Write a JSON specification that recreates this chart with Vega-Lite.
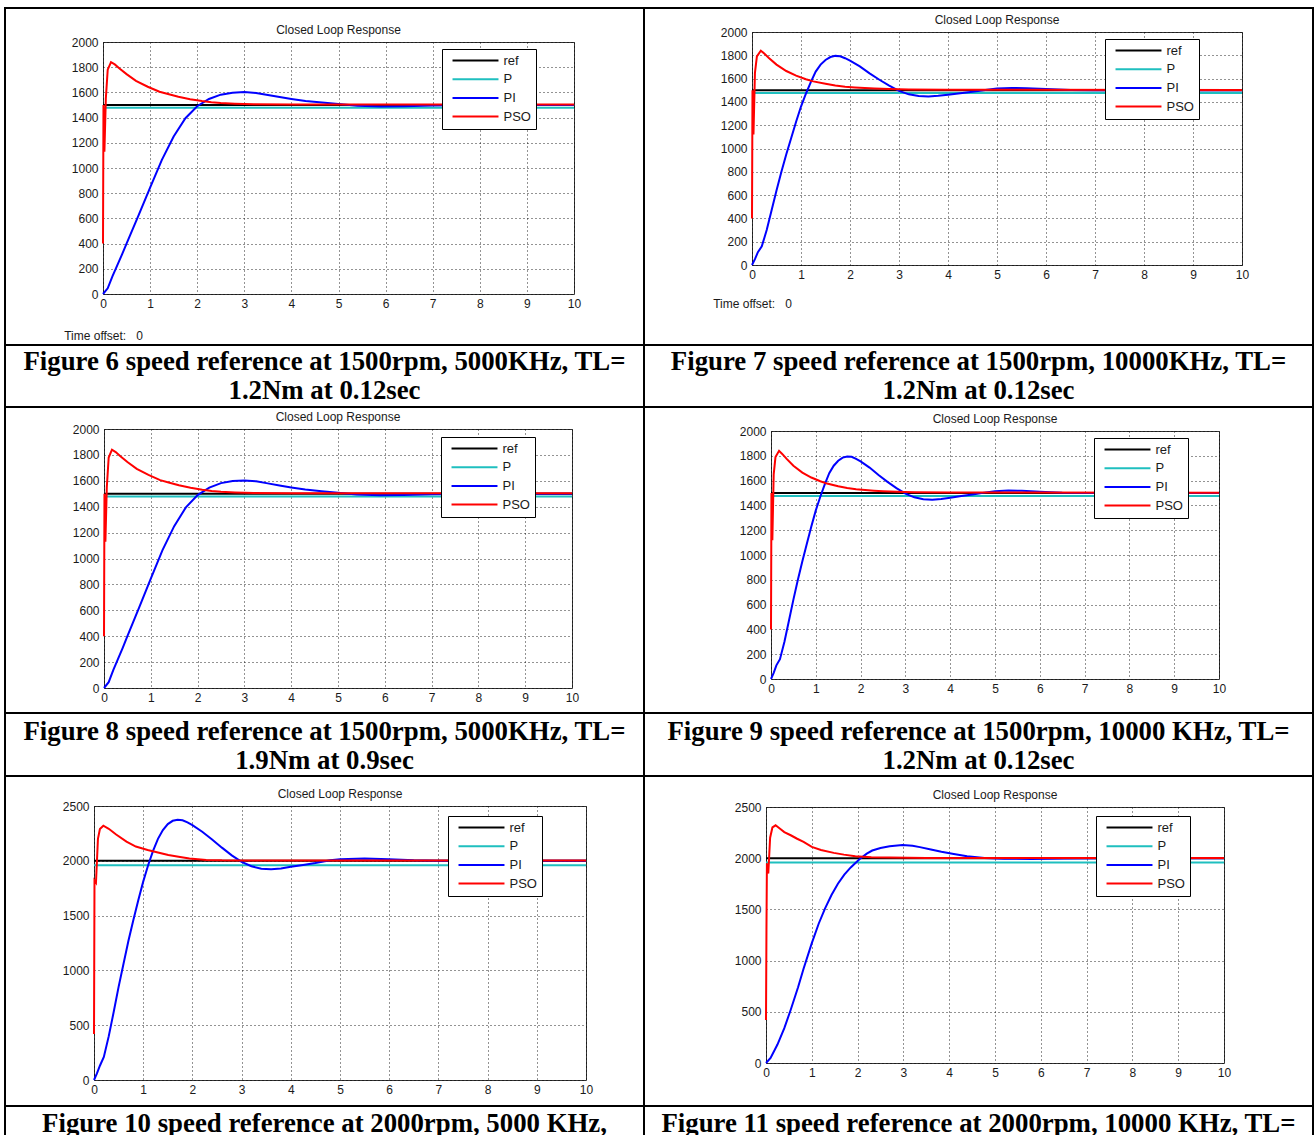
{
"$schema": "https://vega.github.io/schema/vega-lite/v6.json",
"padding": {"left": 4, "top": 7, "right": 0, "bottom": 0},
"background": "white",
"data": {"values": [{}]},
"datasets": {
"A": [
{"s":"ref","t":0,"v":1500},{"s":"ref","t":10,"v":1500},
{"s":"P","t":0,"v":1478},{"s":"P","t":10,"v":1478},
{"s":"PI","t":0,"v":0},{"s":"PI","t":0.1,"v":45},{"s":"PI","t":0.2,"v":140},{"s":"PI","t":0.3,"v":225},{"s":"PI","t":0.4,"v":310},{"s":"PI","t":0.5,"v":400},{"s":"PI","t":0.75,"v":620},{"s":"PI","t":1,"v":845},{"s":"PI","t":1.25,"v":1065},{"s":"PI","t":1.5,"v":1250},{"s":"PI","t":1.75,"v":1395},{"s":"PI","t":2,"v":1490},{"s":"PI","t":2.25,"v":1548},{"s":"PI","t":2.5,"v":1582},{"s":"PI","t":2.75,"v":1598},{"s":"PI","t":3,"v":1603},{"s":"PI","t":3.25,"v":1596},{"s":"PI","t":3.5,"v":1580},{"s":"PI","t":3.75,"v":1563},{"s":"PI","t":4,"v":1548},{"s":"PI","t":4.3,"v":1532},{"s":"PI","t":4.65,"v":1520},{"s":"PI","t":5,"v":1508},{"s":"PI","t":5.4,"v":1495},{"s":"PI","t":5.9,"v":1489},{"s":"PI","t":6.4,"v":1491},{"s":"PI","t":7,"v":1497},{"s":"PI","t":8,"v":1500},{"s":"PI","t":10,"v":1500},
{"s":"PSO","t":0,"v":400},{"s":"PSO","t":0.01,"v":1500},{"s":"PSO","t":0.03,"v":1130},{"s":"PSO","t":0.06,"v":1550},{"s":"PSO","t":0.1,"v":1780},{"s":"PSO","t":0.17,"v":1840},{"s":"PSO","t":0.25,"v":1822},{"s":"PSO","t":0.35,"v":1790},{"s":"PSO","t":0.5,"v":1745},{"s":"PSO","t":0.7,"v":1692},{"s":"PSO","t":0.95,"v":1645},{"s":"PSO","t":1.2,"v":1605},{"s":"PSO","t":1.4,"v":1585},{"s":"PSO","t":1.6,"v":1565},{"s":"PSO","t":1.85,"v":1546},{"s":"PSO","t":2.1,"v":1531},{"s":"PSO","t":2.3,"v":1522},{"s":"PSO","t":2.5,"v":1515},{"s":"PSO","t":2.8,"v":1510},{"s":"PSO","t":3.2,"v":1506},{"s":"PSO","t":4,"v":1504},{"s":"PSO","t":10,"v":1503}
],
"B": [
{"s":"ref","t":0,"v":1500},{"s":"ref","t":10,"v":1500},
{"s":"P","t":0,"v":1476},{"s":"P","t":10,"v":1476},
{"s":"PI","t":0,"v":0},{"s":"PI","t":0.06,"v":50},{"s":"PI","t":0.12,"v":110},{"s":"PI","t":0.2,"v":160},{"s":"PI","t":0.3,"v":300},{"s":"PI","t":0.4,"v":470},{"s":"PI","t":0.5,"v":640},{"s":"PI","t":0.6,"v":800},{"s":"PI","t":0.7,"v":950},{"s":"PI","t":0.8,"v":1090},{"s":"PI","t":0.9,"v":1230},{"s":"PI","t":1,"v":1360},{"s":"PI","t":1.1,"v":1470},{"s":"PI","t":1.2,"v":1570},{"s":"PI","t":1.3,"v":1660},{"s":"PI","t":1.4,"v":1720},{"s":"PI","t":1.5,"v":1760},{"s":"PI","t":1.6,"v":1785},{"s":"PI","t":1.7,"v":1795},{"s":"PI","t":1.8,"v":1792},{"s":"PI","t":1.9,"v":1775},{"s":"PI","t":2,"v":1755},{"s":"PI","t":2.2,"v":1705},{"s":"PI","t":2.4,"v":1645},{"s":"PI","t":2.6,"v":1590},{"s":"PI","t":2.8,"v":1540},{"s":"PI","t":3,"v":1495},{"s":"PI","t":3.2,"v":1465},{"s":"PI","t":3.4,"v":1450},{"s":"PI","t":3.6,"v":1446},{"s":"PI","t":3.8,"v":1452},{"s":"PI","t":4,"v":1462},{"s":"PI","t":4.25,"v":1475},{"s":"PI","t":4.5,"v":1488},{"s":"PI","t":4.8,"v":1505},{"s":"PI","t":5,"v":1515},{"s":"PI","t":5.3,"v":1520},{"s":"PI","t":5.6,"v":1518},{"s":"PI","t":6,"v":1510},{"s":"PI","t":6.5,"v":1503},{"s":"PI","t":7,"v":1500},{"s":"PI","t":10,"v":1500},
{"s":"PSO","t":0,"v":400},{"s":"PSO","t":0.01,"v":1500},{"s":"PSO","t":0.03,"v":1120},{"s":"PSO","t":0.06,"v":1650},{"s":"PSO","t":0.1,"v":1790},{"s":"PSO","t":0.18,"v":1840},{"s":"PSO","t":0.25,"v":1815},{"s":"PSO","t":0.35,"v":1775},{"s":"PSO","t":0.5,"v":1720},{"s":"PSO","t":0.7,"v":1665},{"s":"PSO","t":0.9,"v":1625},{"s":"PSO","t":1.1,"v":1595},{"s":"PSO","t":1.25,"v":1576},{"s":"PSO","t":1.5,"v":1555},{"s":"PSO","t":1.7,"v":1540},{"s":"PSO","t":1.9,"v":1530},{"s":"PSO","t":2.1,"v":1524},{"s":"PSO","t":2.3,"v":1519},{"s":"PSO","t":2.5,"v":1515},{"s":"PSO","t":2.8,"v":1510},{"s":"PSO","t":3.2,"v":1506},{"s":"PSO","t":4,"v":1504},{"s":"PSO","t":10,"v":1503}
],
"C": [
{"s":"ref","t":0,"v":2000},{"s":"ref","t":10,"v":2000},
{"s":"P","t":0,"v":1960},{"s":"P","t":10,"v":1960},
{"s":"PI","t":0,"v":0},{"s":"PI","t":0.06,"v":60},{"s":"PI","t":0.12,"v":130},{"s":"PI","t":0.2,"v":210},{"s":"PI","t":0.3,"v":400},{"s":"PI","t":0.4,"v":620},{"s":"PI","t":0.5,"v":850},{"s":"PI","t":0.6,"v":1060},{"s":"PI","t":0.7,"v":1270},{"s":"PI","t":0.8,"v":1460},{"s":"PI","t":0.9,"v":1640},{"s":"PI","t":1,"v":1810},{"s":"PI","t":1.1,"v":1960},{"s":"PI","t":1.2,"v":2090},{"s":"PI","t":1.3,"v":2200},{"s":"PI","t":1.4,"v":2280},{"s":"PI","t":1.5,"v":2335},{"s":"PI","t":1.6,"v":2365},{"s":"PI","t":1.7,"v":2375},{"s":"PI","t":1.8,"v":2370},{"s":"PI","t":1.9,"v":2350},{"s":"PI","t":2,"v":2325},{"s":"PI","t":2.2,"v":2265},{"s":"PI","t":2.4,"v":2195},{"s":"PI","t":2.6,"v":2120},{"s":"PI","t":2.8,"v":2050},{"s":"PI","t":3,"v":1990},{"s":"PI","t":3.2,"v":1950},{"s":"PI","t":3.4,"v":1928},{"s":"PI","t":3.6,"v":1922},{"s":"PI","t":3.8,"v":1930},{"s":"PI","t":4,"v":1945},{"s":"PI","t":4.25,"v":1962},{"s":"PI","t":4.5,"v":1980},{"s":"PI","t":4.8,"v":2005},{"s":"PI","t":5,"v":2015},{"s":"PI","t":5.5,"v":2020},{"s":"PI","t":6,"v":2015},{"s":"PI","t":6.5,"v":2005},{"s":"PI","t":7,"v":2000},{"s":"PI","t":10,"v":2000},
{"s":"PSO","t":0,"v":420},{"s":"PSO","t":0.01,"v":1820},{"s":"PSO","t":0.04,"v":1800},{"s":"PSO","t":0.08,"v":2200},{"s":"PSO","t":0.12,"v":2290},{"s":"PSO","t":0.19,"v":2320},{"s":"PSO","t":0.3,"v":2292},{"s":"PSO","t":0.45,"v":2240},{"s":"PSO","t":0.66,"v":2175},{"s":"PSO","t":0.85,"v":2130},{"s":"PSO","t":1.09,"v":2099},{"s":"PSO","t":1.3,"v":2075},{"s":"PSO","t":1.51,"v":2053},{"s":"PSO","t":1.75,"v":2035},{"s":"PSO","t":1.94,"v":2022},{"s":"PSO","t":2.28,"v":2008},{"s":"PSO","t":2.6,"v":2004},{"s":"PSO","t":3,"v":2003},{"s":"PSO","t":10,"v":2003}
],
"D": [
{"s":"ref","t":0,"v":2000},{"s":"ref","t":10,"v":2000},
{"s":"P","t":0,"v":1958},{"s":"P","t":10,"v":1958},
{"s":"PI","t":0,"v":0},{"s":"PI","t":0.1,"v":50},{"s":"PI","t":0.25,"v":180},{"s":"PI","t":0.4,"v":340},{"s":"PI","t":0.54,"v":520},{"s":"PI","t":0.7,"v":740},{"s":"PI","t":0.82,"v":920},{"s":"PI","t":1,"v":1170},{"s":"PI","t":1.15,"v":1360},{"s":"PI","t":1.29,"v":1510},{"s":"PI","t":1.43,"v":1640},{"s":"PI","t":1.57,"v":1750},{"s":"PI","t":1.71,"v":1840},{"s":"PI","t":1.85,"v":1910},{"s":"PI","t":2.04,"v":1990},{"s":"PI","t":2.2,"v":2045},{"s":"PI","t":2.32,"v":2075},{"s":"PI","t":2.5,"v":2100},{"s":"PI","t":2.7,"v":2117},{"s":"PI","t":2.98,"v":2128},{"s":"PI","t":3.2,"v":2122},{"s":"PI","t":3.36,"v":2108},{"s":"PI","t":3.6,"v":2084},{"s":"PI","t":3.83,"v":2062},{"s":"PI","t":4.1,"v":2040},{"s":"PI","t":4.39,"v":2019},{"s":"PI","t":4.77,"v":2003},{"s":"PI","t":5.2,"v":1995},{"s":"PI","t":5.8,"v":1993},{"s":"PI","t":6.5,"v":1996},{"s":"PI","t":7.5,"v":2000},{"s":"PI","t":10,"v":2000},
{"s":"PSO","t":0,"v":420},{"s":"PSO","t":0.01,"v":1300},{"s":"PSO","t":0.02,"v":1950},{"s":"PSO","t":0.05,"v":1850},{"s":"PSO","t":0.09,"v":2200},{"s":"PSO","t":0.14,"v":2300},{"s":"PSO","t":0.21,"v":2321},{"s":"PSO","t":0.3,"v":2290},{"s":"PSO","t":0.4,"v":2255},{"s":"PSO","t":0.54,"v":2224},{"s":"PSO","t":0.68,"v":2190},{"s":"PSO","t":0.82,"v":2159},{"s":"PSO","t":1,"v":2110},{"s":"PSO","t":1.2,"v":2080},{"s":"PSO","t":1.48,"v":2052},{"s":"PSO","t":1.7,"v":2035},{"s":"PSO","t":1.95,"v":2019},{"s":"PSO","t":2.3,"v":2010},{"s":"PSO","t":2.7,"v":2006},{"s":"PSO","t":3.5,"v":2003},{"s":"PSO","t":10,"v":2003}
]
},
"spacing": 0,
"bounds": "flush",
"resolve": {"scale": {"color": "independent"}, "legend": {"color": "independent"}},
"vconcat": [
{"width":1310,"height":2,"view":{"fill":"#000"},"mark":{"type":"text","text":"","fontSize":0}},
{"spacing":0,"bounds":"flush","resolve":{"scale":{"color":"independent"},"legend":{"color":"independent"}},
 "hconcat":[
  {"width":2,"height":335,"view":{"fill":"#000"},"mark":{"type":"text","text":"","fontSize":0}},
  {"columns":2,"spacing":0,"bounds":"flush","resolve":{"scale":{"color":"independent"},"legend":{"color":"independent"}},
   "concat":[
    {"width":97,"height":33,"mark":{"type":"text","text":"","fontSize":0}},
    {"width":1,"height":33,"mark":{"type":"text","text":"","fontSize":0}},
    {"width":97,"height":1,"mark":{"type":"text","text":"","fontSize":0}},
    {"width":471,"height":252,"data":{"name":"A"},"view":{"stroke":"#333"},"title":"Closed Loop Response",
     "encoding":{
      "x":{"field":"t","type":"quantitative","scale":{"domain":[0,10],"nice":false},"axis":{"values":[0,1,2,3,4,5,6,7,8,9,10],"title":"Time offset:\u00a0\u00a0\u00a00","titleAnchor":"start","titleAlign":"center","titlePadding":21,"titleFont":"Liberation Sans","titleFontSize":12,"titleFontWeight":"normal","titleColor":"#1a1a1a"}},
      "y":{"field":"v","type":"quantitative","title":null,"scale":{"domain":[0,2000],"nice":false},"axis":{"values":[0,200,400,600,800,1000,1200,1400,1600,1800,2000],"format":"d"}},
      "color":{"field":"s","type":"nominal","title":null,"scale":{"domain":["ref","P","PI","PSO"],"range":["#000000","#1FBFBF","#0000FF","#FF0000"]},"legend":{"legendX":339,"legendY":7}}
     },
     "layer":[
      {"transform":[{"filter":"datum.s==='ref'"}],"mark":"line"},
      {"transform":[{"filter":"datum.s==='P'"}],"mark":"line"},
      {"transform":[{"filter":"datum.s==='PI'"}],"mark":"line"},
      {"transform":[{"filter":"datum.s==='PSO'"}],"mark":"line"}
     ]}
   ]},
  {"width":637,"height":1,"mark":{"type":"text","text":"","fontSize":0}},
  {"width":2,"height":335,"view":{"fill":"#000"},"mark":{"type":"text","text":"","fontSize":0}},
  {"columns":2,"spacing":0,"bounds":"flush","resolve":{"scale":{"color":"independent"},"legend":{"color":"independent"}},
   "concat":[
    {"width":107,"height":23,"mark":{"type":"text","text":"","fontSize":0}},
    {"width":1,"height":23,"mark":{"type":"text","text":"","fontSize":0}},
    {"width":107,"height":1,"mark":{"type":"text","text":"","fontSize":0}},
    {"width":490,"height":233,"data":{"name":"B"},"view":{"stroke":"#333"},"title":"Closed Loop Response",
     "encoding":{
      "x":{"field":"t","type":"quantitative","scale":{"domain":[0,10],"nice":false},"axis":{"values":[0,1,2,3,4,5,6,7,8,9,10],"title":"Time offset:\u00a0\u00a0\u00a00","titleAnchor":"start","titleAlign":"center","titlePadding":18,"titleFont":"Liberation Sans","titleFontSize":12,"titleFontWeight":"normal","titleColor":"#1a1a1a"}},
      "y":{"field":"v","type":"quantitative","title":null,"scale":{"domain":[0,2000],"nice":false},"axis":{"values":[0,200,400,600,800,1000,1200,1400,1600,1800,2000],"format":"d"}},
      "color":{"field":"s","type":"nominal","title":null,"scale":{"domain":["ref","P","PI","PSO"],"range":["#000000","#1FBFBF","#0000FF","#FF0000"]},"legend":{"legendX":353,"legendY":7}}
     },
     "layer":[
      {"transform":[{"filter":"datum.s==='ref'"}],"mark":"line"},
      {"transform":[{"filter":"datum.s==='P'"}],"mark":"line"},
      {"transform":[{"filter":"datum.s==='PI'"}],"mark":"line"},
      {"transform":[{"filter":"datum.s==='PSO'"}],"mark":"line"}
     ]}
   ]},
  {"width":667,"height":1,"mark":{"type":"text","text":"","fontSize":0}},
  {"width":2,"height":335,"view":{"fill":"#000"},"mark":{"type":"text","text":"","fontSize":0}}
 ]},
{"width":1310,"height":335,"mark":{"type":"text","text":"","fontSize":0}},
{"width":1310,"height":2,"view":{"fill":"#000"},"mark":{"type":"text","text":"","fontSize":0}},
{"spacing":0,"bounds":"flush",
 "hconcat":[
  {"width":2,"height":60,"view":{"fill":"#000"},"mark":{"type":"text","text":"","fontSize":0}},
  {"width":637,"height":48,"data":{"values":[{"c":"Figure 6 speed reference at 1500rpm, 5000KHz, TL=|1.2Nm at 0.12sec"}]},"mark":{"type":"text","lineBreak":"|","font":"Liberation Serif","fontWeight":"bold","fontSize":26.8,"lineHeight":29,"baseline":"alphabetic","color":"#000"},"encoding":{"text":{"field":"c","type":"nominal"}}},
  {"width":2,"height":60,"view":{"fill":"#000"},"mark":{"type":"text","text":"","fontSize":0}},
  {"width":667,"height":48,"data":{"values":[{"c":"Figure 7 speed reference at 1500rpm, 10000KHz, TL=|1.2Nm at 0.12sec"}]},"mark":{"type":"text","lineBreak":"|","font":"Liberation Serif","fontWeight":"bold","fontSize":26.8,"lineHeight":29,"baseline":"alphabetic","color":"#000"},"encoding":{"text":{"field":"c","type":"nominal"}}},
  {"width":2,"height":60,"view":{"fill":"#000"},"mark":{"type":"text","text":"","fontSize":0}}
 ]},
{"width":1310,"height":60,"mark":{"type":"text","text":"","fontSize":0}},
{"width":1310,"height":2,"view":{"fill":"#000"},"mark":{"type":"text","text":"","fontSize":0}},
{"spacing":0,"bounds":"flush","resolve":{"scale":{"color":"independent"},"legend":{"color":"independent"}},
 "hconcat":[
  {"width":2,"height":304,"view":{"fill":"#000"},"mark":{"type":"text","text":"","fontSize":0}},
  {"columns":2,"spacing":0,"bounds":"flush","resolve":{"scale":{"color":"independent"},"legend":{"color":"independent"}},
   "concat":[
    {"width":98,"height":21,"mark":{"type":"text","text":"","fontSize":0}},
    {"width":1,"height":21,"mark":{"type":"text","text":"","fontSize":0}},
    {"width":98,"height":1,"mark":{"type":"text","text":"","fontSize":0}},
    {"width":468,"height":259,"data":{"name":"A"},"view":{"stroke":"#333"},"title":"Closed Loop Response",
     "encoding":{
      "x":{"field":"t","type":"quantitative","title":null,"scale":{"domain":[0,10],"nice":false},"axis":{"values":[0,1,2,3,4,5,6,7,8,9,10]}},
      "y":{"field":"v","type":"quantitative","title":null,"scale":{"domain":[0,2000],"nice":false},"axis":{"values":[0,200,400,600,800,1000,1200,1400,1600,1800,2000],"format":"d"}},
      "color":{"field":"s","type":"nominal","title":null,"scale":{"domain":["ref","P","PI","PSO"],"range":["#000000","#1FBFBF","#0000FF","#FF0000"]},"legend":{"legendX":337,"legendY":8}}
     },
     "layer":[
      {"transform":[{"filter":"datum.s==='ref'"}],"mark":"line"},
      {"transform":[{"filter":"datum.s==='P'"}],"mark":"line"},
      {"transform":[{"filter":"datum.s==='PI'"}],"mark":"line"},
      {"transform":[{"filter":"datum.s==='PSO'"}],"mark":"line"}
     ]}
   ]},
  {"width":637,"height":1,"mark":{"type":"text","text":"","fontSize":0}},
  {"width":2,"height":304,"view":{"fill":"#000"},"mark":{"type":"text","text":"","fontSize":0}},
  {"columns":2,"spacing":0,"bounds":"flush","resolve":{"scale":{"color":"independent"},"legend":{"color":"independent"}},
   "concat":[
    {"width":126,"height":23,"mark":{"type":"text","text":"","fontSize":0}},
    {"width":1,"height":23,"mark":{"type":"text","text":"","fontSize":0}},
    {"width":126,"height":1,"mark":{"type":"text","text":"","fontSize":0}},
    {"width":448,"height":248,"data":{"name":"B"},"view":{"stroke":"#333"},"title":"Closed Loop Response",
     "encoding":{
      "x":{"field":"t","type":"quantitative","title":null,"scale":{"domain":[0,10],"nice":false},"axis":{"values":[0,1,2,3,4,5,6,7,8,9,10]}},
      "y":{"field":"v","type":"quantitative","title":null,"scale":{"domain":[0,2000],"nice":false},"axis":{"values":[0,200,400,600,800,1000,1200,1400,1600,1800,2000],"format":"d"}},
      "color":{"field":"s","type":"nominal","title":null,"scale":{"domain":["ref","P","PI","PSO"],"range":["#000000","#1FBFBF","#0000FF","#FF0000"]},"legend":{"legendX":323,"legendY":7}}
     },
     "layer":[
      {"transform":[{"filter":"datum.s==='ref'"}],"mark":"line"},
      {"transform":[{"filter":"datum.s==='P'"}],"mark":"line"},
      {"transform":[{"filter":"datum.s==='PI'"}],"mark":"line"},
      {"transform":[{"filter":"datum.s==='PSO'"}],"mark":"line"}
     ]}
   ]},
  {"width":667,"height":1,"mark":{"type":"text","text":"","fontSize":0}},
  {"width":2,"height":304,"view":{"fill":"#000"},"mark":{"type":"text","text":"","fontSize":0}}
 ]},
{"width":1310,"height":304,"mark":{"type":"text","text":"","fontSize":0}},
{"width":1310,"height":2,"view":{"fill":"#000"},"mark":{"type":"text","text":"","fontSize":0}},
{"spacing":0,"bounds":"flush",
 "hconcat":[
  {"width":2,"height":61,"view":{"fill":"#000"},"mark":{"type":"text","text":"","fontSize":0}},
  {"width":637,"height":51,"data":{"values":[{"c":"Figure 8 speed reference at 1500rpm, 5000KHz, TL=|1.9Nm at 0.9sec"}]},"mark":{"type":"text","lineBreak":"|","font":"Liberation Serif","fontWeight":"bold","fontSize":26.8,"lineHeight":29,"baseline":"alphabetic","color":"#000"},"encoding":{"text":{"field":"c","type":"nominal"}}},
  {"width":2,"height":61,"view":{"fill":"#000"},"mark":{"type":"text","text":"","fontSize":0}},
  {"width":667,"height":51,"data":{"values":[{"c":"Figure 9 speed reference at 1500rpm, 10000 KHz, TL=|1.2Nm at 0.12sec"}]},"mark":{"type":"text","lineBreak":"|","font":"Liberation Serif","fontWeight":"bold","fontSize":26.8,"lineHeight":29,"baseline":"alphabetic","color":"#000"},"encoding":{"text":{"field":"c","type":"nominal"}}},
  {"width":2,"height":61,"view":{"fill":"#000"},"mark":{"type":"text","text":"","fontSize":0}}
 ]},
{"width":1310,"height":61,"mark":{"type":"text","text":"","fontSize":0}},
{"width":1310,"height":2,"view":{"fill":"#000"},"mark":{"type":"text","text":"","fontSize":0}},
{"spacing":0,"bounds":"flush","resolve":{"scale":{"color":"independent"},"legend":{"color":"independent"}},
 "hconcat":[
  {"width":2,"height":328,"view":{"fill":"#000"},"mark":{"type":"text","text":"","fontSize":0}},
  {"columns":2,"spacing":0,"bounds":"flush","resolve":{"scale":{"color":"independent"},"legend":{"color":"independent"}},
   "concat":[
    {"width":88,"height":29,"mark":{"type":"text","text":"","fontSize":0}},
    {"width":1,"height":29,"mark":{"type":"text","text":"","fontSize":0}},
    {"width":88,"height":1,"mark":{"type":"text","text":"","fontSize":0}},
    {"width":492,"height":274,"data":{"name":"C"},"view":{"stroke":"#333"},"title":"Closed Loop Response",
     "encoding":{
      "x":{"field":"t","type":"quantitative","title":null,"scale":{"domain":[0,10],"nice":false},"axis":{"values":[0,1,2,3,4,5,6,7,8,9,10]}},
      "y":{"field":"v","type":"quantitative","title":null,"scale":{"domain":[0,2500],"nice":false},"axis":{"values":[0,500,1000,1500,2000,2500],"format":"d"}},
      "color":{"field":"s","type":"nominal","title":null,"scale":{"domain":["ref","P","PI","PSO"],"range":["#000000","#1FBFBF","#0000FF","#FF0000"]},"legend":{"legendX":354,"legendY":10}}
     },
     "layer":[
      {"transform":[{"filter":"datum.s==='ref'"}],"mark":"line"},
      {"transform":[{"filter":"datum.s==='P'"}],"mark":"line"},
      {"transform":[{"filter":"datum.s==='PI'"}],"mark":"line"},
      {"transform":[{"filter":"datum.s==='PSO'"}],"mark":"line"}
     ]}
   ]},
  {"width":637,"height":1,"mark":{"type":"text","text":"","fontSize":0}},
  {"width":2,"height":328,"view":{"fill":"#000"},"mark":{"type":"text","text":"","fontSize":0}},
  {"columns":2,"spacing":0,"bounds":"flush","resolve":{"scale":{"color":"independent"},"legend":{"color":"independent"}},
   "concat":[
    {"width":121,"height":30,"mark":{"type":"text","text":"","fontSize":0}},
    {"width":1,"height":30,"mark":{"type":"text","text":"","fontSize":0}},
    {"width":121,"height":1,"mark":{"type":"text","text":"","fontSize":0}},
    {"width":458,"height":256,"data":{"name":"D"},"view":{"stroke":"#333"},"title":"Closed Loop Response",
     "encoding":{
      "x":{"field":"t","type":"quantitative","title":null,"scale":{"domain":[0,10],"nice":false},"axis":{"values":[0,1,2,3,4,5,6,7,8,9,10]}},
      "y":{"field":"v","type":"quantitative","title":null,"scale":{"domain":[0,2500],"nice":false},"axis":{"values":[0,500,1000,1500,2000,2500],"format":"d"}},
      "color":{"field":"s","type":"nominal","title":null,"scale":{"domain":["ref","P","PI","PSO"],"range":["#000000","#1FBFBF","#0000FF","#FF0000"]},"legend":{"legendX":330,"legendY":9}}
     },
     "layer":[
      {"transform":[{"filter":"datum.s==='ref'"}],"mark":"line"},
      {"transform":[{"filter":"datum.s==='P'"}],"mark":"line"},
      {"transform":[{"filter":"datum.s==='PI'"}],"mark":"line"},
      {"transform":[{"filter":"datum.s==='PSO'"}],"mark":"line"}
     ]}
   ]},
  {"width":667,"height":1,"mark":{"type":"text","text":"","fontSize":0}},
  {"width":2,"height":328,"view":{"fill":"#000"},"mark":{"type":"text","text":"","fontSize":0}}
 ]},
{"width":1310,"height":328,"mark":{"type":"text","text":"","fontSize":0}},
{"width":1310,"height":2,"view":{"fill":"#000"},"mark":{"type":"text","text":"","fontSize":0}},
{"spacing":0,"bounds":"flush",
 "hconcat":[
  {"width":2,"height":60,"view":{"fill":"#000"},"mark":{"type":"text","text":"","fontSize":0}},
  {"width":637,"height":49,"data":{"values":[{"c":"Figure 10 speed reference at 2000rpm, 5000 KHz,|TL= 1.2Nm at 0.12sec"}]},"mark":{"type":"text","lineBreak":"|","font":"Liberation Serif","fontWeight":"bold","fontSize":26.8,"lineHeight":29,"baseline":"alphabetic","color":"#000"},"encoding":{"text":{"field":"c","type":"nominal"}}},
  {"width":2,"height":60,"view":{"fill":"#000"},"mark":{"type":"text","text":"","fontSize":0}},
  {"width":667,"height":49,"data":{"values":[{"c":"Figure 11 speed reference at 2000rpm, 10000 KHz, TL=|1.2Nm at 0.12sec"}]},"mark":{"type":"text","lineBreak":"|","font":"Liberation Serif","fontWeight":"bold","fontSize":26.8,"lineHeight":29,"baseline":"alphabetic","color":"#000"},"encoding":{"text":{"field":"c","type":"nominal"}}},
  {"width":2,"height":60,"view":{"fill":"#000"},"mark":{"type":"text","text":"","fontSize":0}}
 ]},
{"width":1310,"height":60,"mark":{"type":"text","text":"","fontSize":0}},
{"width":1310,"height":2,"view":{"fill":"#000"},"mark":{"type":"text","text":"","fontSize":0}}
],
"config": {
 "view": {"stroke": null},
 "line": {"strokeWidth": 2},
 "axis": {"domain": false, "ticks": false, "grid": true, "gridDash": [1,3], "gridColor": "#000", "gridOpacity": 0.85, "labelFont": "Liberation Sans", "labelFontSize": 12, "labelColor": "#1a1a1a", "labelPadding": 4, "labelOverlap": false, "labelFlush": false},
 "axisY": {"labelPadding": 5},
 "legend": {"orient": "none", "symbolType": "M-4,0H4", "symbolSize": 132, "symbolStrokeWidth": 2, "symbolOffset": 22, "labelOffset": 21, "labelFont": "Liberation Sans", "labelFontSize": 13, "labelColor": "#1a1a1a", "padding": 4.5, "rowPadding": 4.7, "strokeColor": "#000", "fillColor": "#fff"},
 "title": {"font": "Liberation Sans", "fontSize": 12, "fontWeight": "normal", "color": "#1a1a1a", "offset": -1, "frame": "group", "anchor": "middle"}
}
}
